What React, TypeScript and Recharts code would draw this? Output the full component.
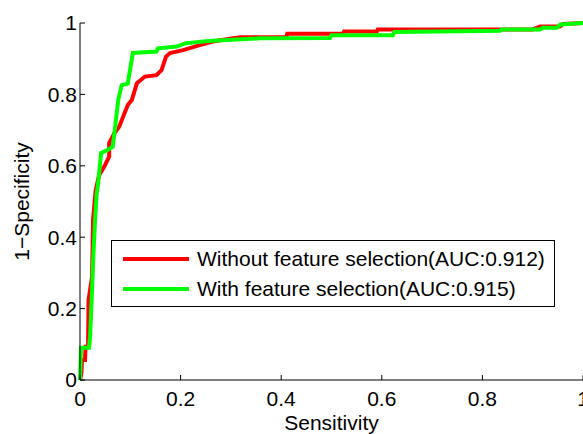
import React from "react";
import { LineChart, Line, XAxis, YAxis } from "recharts";

// ROC points (x = Sensitivity axis, y = 1-Specificity axis)
const withoutX = [0, 0.003, 0.004, 0.01, 0.011, 0.016, 0.017, 0.023, 0.024, 0.026, 0.028, 0.031, 0.038, 0.048, 0.058, 0.058, 0.068, 0.078, 0.083, 0.095, 0.103, 0.113, 0.129, 0.152, 0.162, 0.171, 0.179, 0.205, 0.238, 0.264, 0.304, 0.32, 0.41, 0.412, 0.523, 0.525, 0.59, 0.592, 0.9, 0.915, 0.954, 0.96, 1];
const withoutY = [0, 0.02, 0.056, 0.056, 0.093, 0.093, 0.224, 0.28, 0.29, 0.45, 0.48, 0.53, 0.574, 0.597, 0.626, 0.664, 0.69, 0.71, 0.728, 0.77, 0.784, 0.831, 0.85, 0.854, 0.868, 0.906, 0.916, 0.924, 0.938, 0.948, 0.957, 0.96, 0.96, 0.97, 0.97, 0.976, 0.976, 0.982, 0.982, 0.99, 0.99, 0.997, 1];

const withX = [0, 0.002, 0.018, 0.02, 0.024, 0.026, 0.03, 0.033, 0.036, 0.042, 0.055, 0.065, 0.07, 0.076, 0.083, 0.095, 0.105, 0.152, 0.155, 0.192, 0.209, 0.245, 0.264, 0.358, 0.497, 0.5, 0.622, 0.625, 0.835, 0.838, 0.915, 0.92, 0.948, 0.955, 1];
const withY = [0, 0.09, 0.09, 0.12, 0.25, 0.33, 0.45, 0.52, 0.55, 0.636, 0.644, 0.654, 0.71, 0.784, 0.826, 0.83, 0.916, 0.92, 0.929, 0.934, 0.943, 0.948, 0.95, 0.957, 0.958, 0.966, 0.966, 0.975, 0.978, 0.982, 0.982, 0.987, 0.987, 0.996, 1];

const ticks = [0, 0.2, 0.4, 0.6, 0.8, 1];
const seriesNames = ["Without feature selection(AUC:0.912)", "With feature selection(AUC:0.915)"];
const seriesColors = ["#ff0000", "#00ff00"];

const toPoints = (xs: number[], ys: number[]) => xs.map((x, i) => ({ x, y: ys[i] }));

const FONT = '"Liberation Sans", Arial, Helvetica, sans-serif';

// legend drawn as plain html over the plot, so it doesn't eat chart space
function LegendBox() {
  return (
    <div
      style={{
        position: "absolute",
        left: 111,
        top: 240,
        width: 444,
        height: 67,
        boxSizing: "border-box",
        border: "1px solid #000",
        background: "#fff",
        padding: "3px 0 0 11px",
        fontFamily: FONT,
        fontSize: 21,
        color: "#000",
      }}
    >
      {seriesNames.map((name, i) => (
        <div key={name} style={{ display: "flex", alignItems: "center", height: 30 }}>
          <svg width={66} height={6} style={{ marginRight: 8 }}>
            <line x1={0} x2={66} y1={3} y2={3} stroke={seriesColors[i]} strokeWidth={4} />
          </svg>
          <span style={{ whiteSpace: "nowrap" }}>{name}</span>
        </div>
      ))}
    </div>
  );
}

export default function App() {
  const tickStyle = { fill: "#000", fontSize: 21, fontFamily: FONT };
  return (
    <div style={{ position: "fixed", left: 0, top: 0, width: 583, height: 434, overflow: "hidden", background: "#fff" }}>
      <LineChart width={583} height={434} margin={{ top: 23, right: 0, left: 0, bottom: 0 }}>
        <XAxis
          xAxisId="bottom"
          dataKey="x"
          type="number"
          domain={[0, 1]}
          ticks={ticks}
          interval={0}
          height={54}
          tickSize={-5}
          tickMargin={16}
          stroke="#000"
          tick={tickStyle}
          label={{ value: "Sensitivity", position: "insideBottom", offset: 4, fill: "#000", fontSize: 21, fontFamily: FONT }}
        />
        <XAxis
          xAxisId="top"
          orientation="top"
          type="number"
          domain={[0, 1]}
          ticks={ticks}
          interval={0}
          height={0}
          tickSize={-5}
          tick={false}
          stroke="#000"
        />
        <YAxis
          yAxisId="left"
          dataKey="y"
          type="number"
          domain={[0, 1]}
          ticks={ticks}
          interval={0}
          width={80}
          tickSize={-5}
          tickMargin={8}
          stroke="#000"
          tick={tickStyle}
          label={(props: any) => {
            const vb = props.viewBox || { x: 0, y: 23, height: 357 };
            const cx = vb.x + 29;
            const cy = vb.y + vb.height / 2;
            return (
              <text
                x={cx}
                y={cy}
                transform={`rotate(-90 ${cx} ${cy})`}
                textAnchor="middle"
                fill="#000"
                fontSize={21}
                fontFamily={FONT}
              >
                1−Specificity
              </text>
            );
          }}
        />
        <YAxis
          yAxisId="right"
          orientation="right"
          type="number"
          domain={[0, 1]}
          ticks={ticks}
          interval={0}
          width={0}
          tickSize={-5}
          tick={false}
          stroke="#000"
        />
        <Line
          xAxisId="bottom"
          yAxisId="left"
          data={toPoints(withoutX, withoutY)}
          dataKey="y"
          name={seriesNames[0]}
          type="linear"
          stroke={seriesColors[0]}
          strokeWidth={4}
          dot={false}
          isAnimationActive={false}
        />
        <Line
          xAxisId="bottom"
          yAxisId="left"
          data={toPoints(withX, withY)}
          dataKey="y"
          name={seriesNames[1]}
          type="linear"
          stroke={seriesColors[1]}
          strokeWidth={4}
          dot={false}
          isAnimationActive={false}
        />
      </LineChart>
      <LegendBox />
    </div>
  );
}
